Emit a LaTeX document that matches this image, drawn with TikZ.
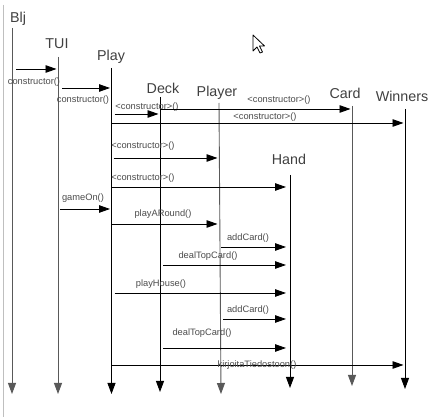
\documentclass[tikz,border=0pt]{standalone}
\usepackage{fontspec}
\setmainfont{Liberation Sans}
\usetikzlibrary{arrows.meta}
\begin{document}
\begin{tikzpicture}[x=1pt,y=-1pt,
  head/.style={font=\fontsize{14.3}{16}\selectfont, text=black!75, inner sep=0pt, anchor=center},
  life/.style={line width=0.9pt, -{Triangle[length=11pt,width=8pt]}},
  lifeg/.style={life, draw=black!65},
  msg/.style={line width=0.9pt, -{Triangle[length=11pt,width=7.5pt]}, shorten >=1.5pt},
  msgh/.style={msg, shorten >=4pt},
  lab/.style={font=\fontsize{9.3}{10}\selectfont, text=black!70, inner sep=0pt, anchor=center}]
\useasboundingbox (0,0) rectangle (440,417);
\fill[white] (0,0) rectangle (440,417);
% left border
\draw[black!25, line width=1pt] (3,5) -- (3,417);
% lifeline heads
\node[head] (hBlj) at (18,19) {Blj};
\node[head] (hTUI) at (57,44) {TUI};
\node[head] (hPlay) at (111,57) {Play};
\node[head] (hDeck) at (163,88) {Deck};
\node[head] (hPlayer) at (217,93) {Player};
\node[head] (hCard) at (345,93) {Card};
\node[head] (hWinners) at (402,96) {Winners};
\node[head] (hHand) at (289,159) {Hand};
% lifeline coordinates
\coordinate (Blj) at (12,28);    \coordinate (BljE) at (12,394);
\coordinate (TUI) at (58,57);    \coordinate (TUIE) at (58,394);
\coordinate (Play) at (111.5,68);\coordinate (PlayE) at (111.5,394);
\coordinate (Deck) at (160,97);  \coordinate (DeckE) at (160,392);
\coordinate (Player) at (219,103);\coordinate (PlayerE) at (221,394);
\coordinate (Card) at (352,106); \coordinate (CardE) at (352,386);
\coordinate (Winners) at (405,109);\coordinate (WinnersE) at (405,389);
\coordinate (Hand) at (290,175); \coordinate (HandE) at (290,388);
% lifelines
\draw[lifeg] (Blj) -- (BljE);
\draw[lifeg] (TUI) -- (TUIE);
\draw[life] (Play) -- (PlayE);
\draw[life] (Deck) -- (DeckE);
\draw[lifeg] (Player) -- (PlayerE);
\draw[life] (Hand) -- (HandE);
\draw[lifeg] (Card) -- (CardE);
\draw[life] (Winners) -- (WinnersE);
% messages
\draw[msg] ([xshift=4pt]Blj |- 0,69) -- (TUI |- 0,69);
\node[lab] (l1) at (34,82) {constructor()};
\draw[msg] ([xshift=4pt]TUI |- 0,88) -- (Play |- 0,88);
\node[lab] (l2) at (83,100) {constructor()};
\node[lab] (l3) at (147,107) {<constructor>()};
\draw[msg] ([xshift=3pt]Play |- 0,114) -- (Deck |- 0,114);
\draw[msg] (Deck |- 0,109) -- (Card |- 0,109);
\node[lab] (l5) at (279,100) {<constructor>()};
\draw[msg] (Play |- 0,123) -- (Winners |- 0,123);
\node[lab] (l4) at (265,117) {<constructor>()};
\node[lab] (l6) at (143,146) {<constructor>()};
\draw[msg] ([xshift=2pt]Play |- 0,158) -- (Player |- 0,158);
\node[lab] (l7) at (143,178) {<constructor>()};
\draw[msgh] (Play |- 0,187) -- (Hand |- 0,187);
\node[lab] (l8) at (83,198) {gameOn()};
\draw[msg] ([xshift=2pt]TUI |- 0,209) -- (Play |- 0,209);
\node[lab] (l9) at (163,214) {playARound()};
\draw[msg] (Play |- 0,224) -- (Player |- 0,224);
\node[lab] (l10) at (248,238) {addCard()};
\draw[msgh] ([xshift=2pt]Player |- 0,247) -- (Hand |- 0,247);
\node[lab] (l11) at (208,256) {dealTopCard()};
\draw[msgh] ([xshift=3pt]Deck |- 0,265) -- (Hand |- 0,265);
\node[lab] (l12) at (161,284) {playHouse()};
\draw[msgh] ([xshift=3pt]Play |- 0,293) -- (Hand |- 0,293);
\node[lab] (l13) at (248,310) {addCard()};
\draw[msgh] ([xshift=4pt]Player |- 0,319) -- (Hand |- 0,319);
\node[lab] (l14) at (202,333) {dealTopCard()};
\draw[msgh] ([xshift=3pt]Deck |- 0,348) -- (Hand |- 0,348);
\draw[msg] (Play |- 0,365) -- (Winners |- 0,365);
\node[lab] (l15) at (257,365) {kirjoitaTiedostoon()};
% mouse cursor
\filldraw[fill=white, draw=black, line width=0.8pt, line join=round]
  (253,35) -- (253,51) -- (257,47) -- (260,53) -- (262.5,52) -- (259.5,46) -- (264.5,46) -- cycle;
\end{tikzpicture}
\end{document}
